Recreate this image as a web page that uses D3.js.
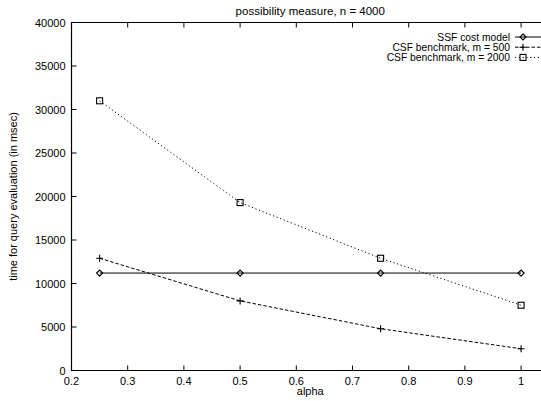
<!DOCTYPE html>
<html>
<head>
<meta charset="utf-8">
<script src="https://cdn.jsdelivr.net/npm/d3@7"></script>
<style>
  html, body { margin: 0; padding: 0; background: #fff; }
  svg { display: block; font-family: "Liberation Sans", Arial, sans-serif; }
</style>
</head>
<body>
<svg id="chart" width="541" height="401"></svg>
<script>
// Query evaluation time against alpha (possibility measure, n = 4000)
const alphas = [0.25, 0.5, 0.75, 1.0];
const ssfCost = [11200, 11200, 11200, 11200];
const csf500 = [12900, 8000, 4800, 2500];
const csf2000 = [31000, 19300, 12900, 7500];
const xTicks = [0.2, 0.3, 0.4, 0.5, 0.6, 0.7, 0.8, 0.9, 1];
const yTicks = [0, 5000, 10000, 15000, 20000, 25000, 30000, 35000, 40000];
const seriesNames = ["SSF cost model", "CSF benchmark, m = 500", "CSF benchmark, m = 2000"];

const svg = d3.select("#chart");
const plotLeft = 71.5, plotTop = 22.5, plotBottom = 370.5;

// the plot area continues a little past the right edge of the window
const x = d3.scaleLinear().domain([0.2, 1.0]).range([plotLeft, plotLeft + 56.2 * 8]);
const y = d3.scaleLinear().domain([0, 40000]).range([plotBottom, plotTop]);
const plotRight = 549;

const fs = 11;

svg.append("path")
  .attr("d", `M${plotRight},${plotTop}H${plotLeft}V${plotBottom}H${plotRight}`)
  .attr("fill", "none").attr("stroke", "#000").attr("stroke-width", 1.2);

// ticks pointing inward
const tickLen = 5;
xTicks.forEach(t => {
  const px = x(t);
  svg.append("line").attr("x1", px).attr("x2", px).attr("y1", plotBottom).attr("y2", plotBottom - tickLen)
    .attr("stroke", "#000").attr("stroke-width", 1);
  svg.append("line").attr("x1", px).attr("x2", px).attr("y1", plotTop).attr("y2", plotTop + tickLen)
    .attr("stroke", "#000").attr("stroke-width", 1);
  svg.append("text").attr("x", px).attr("y", plotBottom + 14).attr("text-anchor", "middle")
    .attr("font-size", fs).text(+t.toFixed(1));
});
yTicks.forEach(t => {
  const py = y(t);
  svg.append("line").attr("x1", plotLeft).attr("x2", plotLeft + tickLen).attr("y1", py).attr("y2", py)
    .attr("stroke", "#000").attr("stroke-width", 1);
  svg.append("text").attr("x", plotLeft - 6).attr("y", py + 4).attr("text-anchor", "end")
    .attr("font-size", fs).text(t);
});

// titles
const midX = (plotLeft + plotRight) / 2;
svg.append("text").attr("x", midX).attr("y", 15).attr("text-anchor", "middle")
  .attr("font-size", 11.5).text("possibility measure, n = 4000");
svg.append("text").attr("x", midX).attr("y", 395).attr("text-anchor", "middle")
  .attr("font-size", fs).text("alpha");
svg.append("text").attr("transform", `translate(17,${(plotTop + plotBottom) / 2}) rotate(-90)`)
  .attr("text-anchor", "middle").attr("font-size", fs).text("time for query evaluation (in msec)");

const styles = [
  { dash: null, marker: "diamond" },
  { dash: "3.5,2", marker: "plus" },
  { dash: "1.2,2.6", marker: "square" }
];
const allSeries = [ssfCost, csf500, csf2000];

function drawMarker(g, kind, cx, cy) {
  if (kind === "diamond") {
    g.append("path").attr("d", `M${cx},${cy - 3}L${cx + 3},${cy}L${cx},${cy + 3}L${cx - 3},${cy}Z`)
      .attr("fill", "none").attr("stroke", "#000").attr("stroke-width", 1.2);
  } else if (kind === "plus") {
    g.append("path").attr("d", `M${cx - 3.5},${cy}H${cx + 3.5}M${cx},${cy - 3.5}V${cy + 3.5}`)
      .attr("stroke", "#000").attr("stroke-width", 1.1);
  } else {
    g.append("rect").attr("x", cx - 3).attr("y", cy - 3).attr("width", 6).attr("height", 6)
      .attr("fill", "none").attr("stroke", "#000").attr("stroke-width", 1.1);
  }
}

const line = d3.line().x((d, i) => x(alphas[i])).y(d => y(d));
allSeries.forEach((vals, k) => {
  const g = svg.append("g");
  g.append("path").attr("d", line(vals)).attr("fill", "none")
    .attr("stroke", "#000").attr("stroke-width", 1)
    .attr("stroke-dasharray", styles[k].dash);
  vals.forEach((v, i) => drawMarker(g, styles[k].marker, x(alphas[i]), y(v)));
});

// legend
const legX = 510, legY0 = 37, legStep = 10.2;
seriesNames.forEach((name, k) => {
  const ly = legY0 + k * legStep;
  svg.append("text").attr("x", legX).attr("y", ly + 3.6).attr("text-anchor", "end")
    .attr("font-size", 10.3).text(name);
  svg.append("line").attr("x1", 515).attr("x2", 541).attr("y1", ly).attr("y2", ly)
    .attr("stroke", "#000").attr("stroke-width", 1).attr("stroke-dasharray", styles[k].dash);
  drawMarker(svg, styles[k].marker, 523, ly);
});
</script>
</body>
</html>
